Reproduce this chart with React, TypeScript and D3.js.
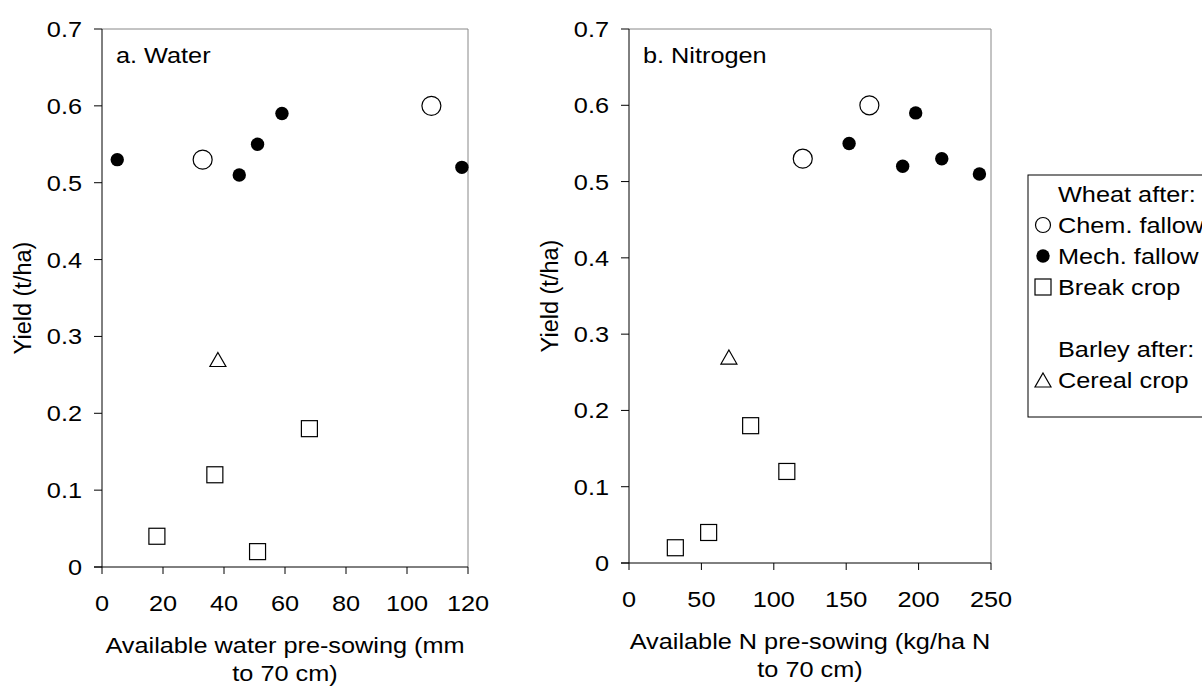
import React from 'react';
import * as d3 from 'd3';

// panel a: available water (mm)
const waterChem = [{ x: 33, y: 0.53 }, { x: 108, y: 0.6 }];
const waterMech = [{ x: 5, y: 0.53 }, { x: 45, y: 0.51 }, { x: 51, y: 0.55 }, { x: 59, y: 0.59 }, { x: 118, y: 0.52 }];
const waterBreak = [{ x: 18, y: 0.04 }, { x: 37, y: 0.12 }, { x: 51, y: 0.02 }, { x: 68, y: 0.18 }];
const waterCereal = [{ x: 38, y: 0.27 }];

// panel b: available N (kg/ha)
const nChem = [{ x: 120, y: 0.53 }, { x: 166, y: 0.6 }];
const nMech = [{ x: 152, y: 0.55 }, { x: 189, y: 0.52 }, { x: 198, y: 0.59 }, { x: 216, y: 0.53 }, { x: 242, y: 0.51 }];
const nBreak = [{ x: 32, y: 0.02 }, { x: 55, y: 0.04 }, { x: 84, y: 0.18 }, { x: 109, y: 0.12 }];
const nCereal = [{ x: 69, y: 0.27 }];

const yTicks = [0, 0.1, 0.2, 0.3, 0.4, 0.5, 0.6, 0.7];
const waterTicks = [0, 20, 40, 60, 80, 100, 120];
const nTicks = [0, 50, 100, 150, 200, 250];

const legendItems = [
    { label: 'Wheat after:', shape: null },
    { label: 'Chem. fallow', shape: 'open' },
    { label: 'Mech. fallow', shape: 'filled' },
    { label: 'Break crop', shape: 'square' },
    { label: '', shape: null },
    { label: 'Barley after:', shape: null },
    { label: 'Cereal crop', shape: 'triangle' },
];

const font = '"Liberation Sans", Arial, sans-serif';
const FS = 22;
const STRETCH = 1.15; // the original text is a bit wider than plain Arial

// text with a slight horizontal stretch
const T = ({ x, y, anchor = 'start', dy = null, size = FS, children }) =>
    <text transform={`translate(${x},${y}) scale(${STRETCH},1)`} textAnchor={anchor} dy={dy} fontSize={size}>{children}</text>;

const Marker = ({ shape, cx, cy, small = false }) => {
    if (shape === 'open') return <circle cx={cx} cy={cy} r={small ? 7.5 : 9.5} fill="#fff" stroke="#000" strokeWidth={1.2} />;
    if (shape === 'filled') return <circle cx={cx} cy={cy} r={6.7} fill="#000" />;
    if (shape === 'square') {
        const s = 16;
        return <rect x={cx - s / 2} y={cy - s / 2} width={s} height={s} fill="#fff" stroke="#000" strokeWidth={1.2} />;
    }
    if (shape === 'triangle') {
        const w = 16, h = 14;
        return <path d={`M${cx},${cy - h / 2}L${cx + w / 2},${cy + h / 2}L${cx - w / 2},${cy + h / 2}Z`} fill="#fff" stroke="#000" strokeWidth={1.2} />;
    }
    return null;
};

const Panel = ({ x0, x1, y0, y1, domainX, ticksX, title, xLabel, series }) => {
    const x = d3.scaleLinear().domain(domainX).range([x0, x1]);
    const y = d3.scaleLinear().domain([0, 0.7]).range([y1, y0]);
    const cx = (x0 + x1) / 2;

    return (
        <g fontFamily={font} fill="#000">
            {/* plot border */}
            <line x1={x0} x2={x1} y1={y0} y2={y0} stroke="#888" />
            <line x1={x1} x2={x1} y1={y0} y2={y1} stroke="#888" />
            <line x1={x0} x2={x0} y1={y0} y2={y1} stroke="#000" />
            <line x1={x0 - 8} x2={x1} y1={y1} y2={y1} stroke="#000" />

            {yTicks.map(d =>
                <g key={d}>
                    <line x1={x0 - 8} x2={x0} y1={y(d)} y2={y(d)} stroke="#000" />
                    <T x={x0 - 20} y={y(d)} dy="0.36em" anchor="end">{d3.format('~g')(d)}</T>
                </g>
            )}
            {ticksX.map(d =>
                <g key={d}>
                    <line x1={x(d)} x2={x(d)} y1={y1} y2={y1 + 7} stroke="#000" />
                    <T x={x(d)} y={y1 + 44} anchor="middle">{d}</T>
                </g>
            )}

            <T x={x0 + 14} y={y0 + 34}>{title}</T>

            <text transform={`translate(${x0 - 71},${(y0 + y1) / 2}) rotate(-90)`} textAnchor="middle" fontSize={23.5}>Yield (t/ha)</text>

            <T x={cx} y={y1 + 86} anchor="middle">{xLabel[0]}</T>
            <T x={cx} y={y1 + 114} anchor="middle">{xLabel[1]}</T>

            {series.map(s =>
                s.data.map((d, i) =>
                    <Marker key={s.shape + i} shape={s.shape} cx={x(d.x)} cy={y(d.y)} />
                )
            )}
        </g>
    );
};

const App = () => {
    const legendX = 1028, legendY = 175;
    return (
        <div style={{ position: 'absolute', left: 0, top: 0 }}>
            <svg width={1202} height={686} style={{ display: 'block', background: '#fff' }}>
                <Panel x0={102} x1={468} y0={29} y1={567} domainX={[0, 120]} ticksX={waterTicks}
                    title="a. Water" xLabel={['Available water pre-sowing (mm', 'to 70 cm)']}
                    series={[
                        { shape: 'square', data: waterBreak },
                        { shape: 'triangle', data: waterCereal },
                        { shape: 'open', data: waterChem },
                        { shape: 'filled', data: waterMech },
                    ]} />
                <Panel x0={629} x1={991} y0={29} y1={563} domainX={[0, 250]} ticksX={nTicks}
                    title="b. Nitrogen" xLabel={['Available N pre-sowing (kg/ha N', 'to 70 cm)']}
                    series={[
                        { shape: 'square', data: nBreak },
                        { shape: 'triangle', data: nCereal },
                        { shape: 'open', data: nChem },
                        { shape: 'filled', data: nMech },
                    ]} />

                <g fontFamily={font}>
                    <rect x={legendX} y={legendY} width={200} height={242} fill="#fff" stroke="#000" />
                    {legendItems.map((d, i) =>
                        <g key={i}>
                            {d.shape ? <Marker shape={d.shape} cx={legendX + 15} cy={legendY + 19 + i * 31} small /> : null}
                            <T x={legendX + 30} y={legendY + 19 + i * 31} dy="0.36em">{d.label}</T>
                        </g>
                    )}
                </g>
            </svg>
        </div>
    );
};

export default App;
